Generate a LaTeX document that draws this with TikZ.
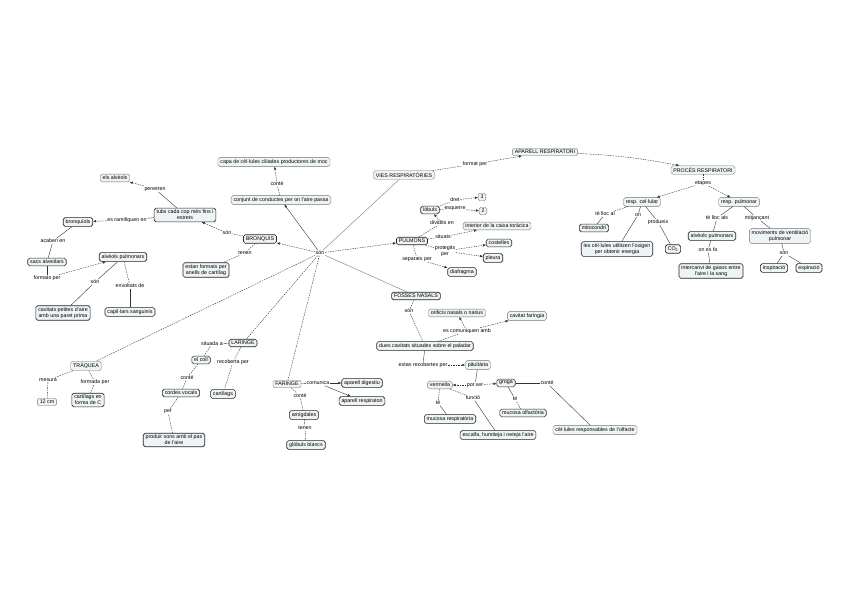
\documentclass[tikz,border=0pt]{standalone}
\usepackage{fontspec}
\setmainfont{Liberation Sans}
\usetikzlibrary{arrows.meta}
\definecolor{boxfill}{HTML}{EEF3F5}
\begin{document}
\begin{tikzpicture}[x=1pt,y=-1pt,
 every node/.style={font=\fontsize{5.3}{5.9}\selectfont},
 box/.style={draw=black!55, line width=0.35pt, fill=boxfill, rounded corners=1.8pt, inner xsep=2.4pt, inner ysep=1.9pt, align=center},
 boxb/.style={box, draw=black!85, line width=0.65pt},
 lab/.style={inner sep=0.6pt, align=center},
 con/.style={draw=black!80, line width=0.4pt, dash pattern=on 1.5pt off 1pt},
 ar/.style={con, -{Latex[length=3pt,width=2.6pt]}},
 sol/.style={draw=black!80, line width=0.4pt},
 sar/.style={sol, -{Latex[length=3pt,width=2.6pt]}},
 gl/.style={draw=black!45, line width=0.5pt}
]
\fill[white] (0,0) rectangle (848,599);
\useasboundingbox (0,0) rectangle (848,599);

% top
\node[box] (capa) at (274,162) {capa de cèl·lules ciliades productores de moc};
\node[box] (cdc) at (281,200) {conjunt de conductes per on l'aire passa};
\node[lab] (lconte1) at (277,184) {conté};
\node[box] (vies) at (404,175) {VIES RESPIRATÒRIES};
\node[lab] (lformat) at (475,164) {format per};
\node[box] (apar) at (545,152) {APARELL RESPIRATORI};
\node[box] (proc) at (703,170) {PROCÉS RESPIRATORI};
\node[lab] (letapes) at (703,183) {etapes};

% right cluster
\node[box] (rcel) at (642,202) {resp. cel·lular};
\node[box] (rpul) at (739,202) {resp. pulmonar};
\node[lab] (llloc1) at (605,214) {té lloc al};
\node[lab] (lutil) at (638,215) {on};
\node[lab] (lprod) at (658,222) {produeix};
\node[boxb] (mito) at (594,228) {mitocondri};
\node[boxb] (celu) at (617,249) {les cèl·lules utilitzen l'oxigen\\per obtenir energia};
\node[boxb] (co2) at (673,249) {CO\textsubscript{2}};
\node[lab] (llloc2) at (717,218) {té lloc als};
\node[lab] (lmitj) at (757,218) {mitjançant};
\node[boxb] (alvp2) at (712,236) {alvèols pulmonars};
\node[lab] (lfa) at (708,250) {on es fa};
\node[boxb] (inter) at (711,271) {intercanvi de gasos entre\\l'aire i la sang};
\node[box] (movi) at (780,236) {moviments de ventilació\\pulmonar};
\node[lab] (lson5) at (784,253) {són};
\node[boxb] (insp) at (774,268) {inspiració};
\node[boxb] (esp) at (809,268) {espiració};

% left cluster
\node[box] (elsalv) at (115,178) {els alvèols};
\node[lab] (lpen) at (155,189) {penetren};
\node[boxb] (tubs) at (185,215) {tubs cada cop més fins i\\estrets};
\node[lab] (lram) at (127,220) {es ramifiquen en};
\node[boxb] (bronql) at (78,222) {bronquíols};
\node[lab] (lacab) at (53,241) {acaben en};
\node[boxb] (sacs) at (47,262) {sacs alveolars};
\node[lab] (lform) at (47,278) {formats per};
\node[boxb] (alvp) at (123,257) {alvèols pulmonars};
\node[lab] (lson2) at (95,282) {són};
\node[lab] (lenv) at (130,286) {envoltats de};
\node[boxb] (cavs) at (63,313) {cavitats petites d'aire\\amb una paret prima};
\node[boxb] (capil) at (130,312) {capil·lars sanguinis};

% centre
\node[boxb] (bronq) at (260,239) {BRONQUIS};
\node[lab] (lson1) at (227,233) {són};
\node[lab] (lten) at (245,253) {tenen};
\node[boxb] (anellsb) at (206,270) {estan formats per\\anells de cartílag};
\node[lab] (hub) at (320,253) {són};

% pulmons
\node[boxb] (lobs) at (430,210) {lòbuls};
\node[lab] (ldret) at (455,200) {dret};
\node[lab] (lesq) at (455,209) {esquerre};
\node[box] (n3) at (482,197) {3};
\node[box] (n2) at (483,211) {2};
\node[boxb] (pulm) at (412,241) {PULMONS};
\node[lab] (ldiv) at (442,223) {dividits en};
\node[box] (caixa) at (497,226) {interior de la caixa toràcica};
\node[lab] (lsit) at (443,237) {situats};
\node[boxb] (cost) at (499,243) {costelles};
\node[lab] (lprot) at (445,251) {protegits\\per};
\node[boxb] (pleura) at (493,258) {pleura};
\node[lab] (lsep) at (417,259) {separats per};
\node[boxb] (diaf) at (462,272) {diafragma};

% fosses nasals
\node[boxb] (foss) at (416,296) {FOSSES NASALS};
\node[lab] (lson3) at (409,311) {són};
\node[box] (orif) at (457,313) {orificis nasals o narius};
\node[box] (cavf) at (527,316) {cavitat faríngia};
\node[lab] (lcom) at (467,331) {es comuniquen amb};
\node[boxb] (dues) at (425,346) {dues cavitats situades sobre el paladar};
\node[lab] (lrec) at (423,365) {estan recobertes per};
\node[box] (pitu) at (478,365) {pituïtària};
\node[box] (verm) at (440,385) {vermella};
\node[lab] (lpot) at (475,385) {pot ser};
\node[boxb] (groga) at (506,383) {groga};
\node[lab] (lconte3) at (547,383) {conté};
\node[lab] (lte1) at (438,403) {té};
\node[lab] (lfunc) at (473,398) {funció};
\node[lab] (lte2) at (515,399) {té};
\node[boxb] (mucolf) at (523,413) {mucosa olfactòria};
\node[boxb] (mucres) at (450,419) {mucosa respiratòria};
\node[boxb] (escal) at (498,435) {escalfa, humiteja i neteja l'aire};
\node[box] (cell) at (595,430) {cèl·lules responsables de l'olfacte};

% traquea
\node[box] (traq) at (86,366) {TRÀQUEA};
\node[lab] (lmes) at (48,380) {mesura};
\node[lab] (lformp) at (95,382) {formada per};
\node[box] (cm) at (47,402) {12 cm};
\node[boxb] (cart) at (88,400) {cartílags en\\forma de C};

% laringe
\node[boxb] (lar) at (243,343) {LARINGE};
\node[lab] (lsitu) at (212,344) {situada a};
\node[boxb] (coll) at (201,360) {el coll};
\node[lab] (lreco) at (233,362) {recoberta per};
\node[lab] (lconte4) at (187,378) {conté};
\node[boxb] (cordes) at (181,393) {cordes vocals};
\node[boxb] (cartl) at (223,394) {cartílags};
\node[lab] (lper) at (168,412) {per};
\node[boxb] (sons) at (174,440) {produir sons amb el pas\\de l'aire};

% faringe
\node[box] (far) at (287,384) {FARINGE};
\node[lab] (lcomu) at (318,383) {comunica};
\node[boxb] (apdig) at (362,383) {aparell digestiu};
\node[boxb] (apres) at (362,401) {aparell respiratori};
\node[lab] (lconte5) at (300,396) {conté};
\node[boxb] (amig) at (304,415) {amígdales};
\node[lab] (lamb) at (305,428) {tenen};
\node[boxb] (glob) at (306,445) {glòbuls blancs};

% connectors
\draw[gl] (vies) -- (hub);
\draw[sar] (hub) -- (cdc);
\draw[con] (cdc) -- (lconte1); \draw[ar] (lconte1) -- (capa);
\draw[ar] (hub) -- (bronq);
\draw[con] (bronq) -- (lson1); \draw[ar] (lson1) -- (tubs);
\draw[con] (bronq) -- (lten); \draw[con] (lten) -- (anellsb);
\draw[sol] (tubs) -- (lpen); \draw[ar] (lpen) -- (elsalv);
\draw[sol] (tubs) -- (lram); \draw[ar] (lram) -- (bronql);
\draw[sol] (bronql) -- (lacab); \draw[sol] (lacab) -- (sacs);
\draw[sol] (sacs) -- (lform); \draw[ar] (lform) -- (alvp);
\draw[sol] (alvp) -- (lson2); \draw[sol] (lson2) -- (cavs);
\draw[con] (alvp) -- (lenv); \draw[sol] (lenv) -- (capil);
\draw[ar] (hub) -- (pulm);
\draw[con] (pulm) -- (ldiv); \draw[ar] (ldiv) -- (lobs);
\draw[con] (lobs) -- (ldret); \draw[ar] (ldret) -- (n3);
\draw[con] (lobs) -- (lesq); \draw[ar] (lesq) -- (n2);
\draw[con] (pulm) -- (lsit); \draw[ar] (lsit) -- (caixa);
\draw[con] (pulm) -- (lprot); \draw[ar] (lprot) -- (cost); \draw[ar] (lprot) -- (pleura);
\draw[con] (pulm) -- (lsep); \draw[ar] (lsep) -- (diaf);
\draw[gl] (hub) -- (foss);
\draw[con] (foss) -- (lson3); \draw[con] (lson3) -- (dues);
\draw[con] (dues) -- (lcom); \draw[ar] (lcom) -- (orif); \draw[ar] (lcom) -- (cavf);
\draw[sol] (dues) -- (lrec); \draw[ar] (lrec) -- (pitu);
\draw[sol] (pitu) -- (lpot); \draw[ar] (lpot) -- (verm); \draw[ar] (lpot) -- (groga);
\draw[con] (verm) -- (lte1); \draw[sol] (lte1) -- (mucres);
\draw[con] (verm) -- (lfunc); \draw[sol] (lfunc) -- (escal);
\draw[sol] (groga) -- (lte2); \draw[con] (lte2) -- (mucolf);
\draw[sol] (groga) -- (lconte3); \draw[sol] (lconte3) -- (cell);
\draw[con] (hub) -- (traq);
\draw[con] (traq) -- (lmes); \draw[con] (lmes) -- (cm);
\draw[con] (traq) -- (lformp); \draw[con] (lformp) -- (cart);
\draw[con] (hub) -- (lar);
\draw[sol] (lar) -- (lsitu); \draw[con] (lsitu) -- (coll);
\draw[con] (lar) -- (lreco); \draw[con] (lreco) -- (cartl);
\draw[con] (coll) -- (lconte4); \draw[con] (lconte4) -- (cordes);
\draw[con] (cordes) -- (lper); \draw[con] (lper) -- (sons);
\draw[con] (hub) -- (far);
\draw[sol] (far) -- (lcomu); \draw[sar] (lcomu) -- (apdig); \draw[sar] (lcomu) -- (apres);
\draw[con] (far) -- (lconte5); \draw[con] (lconte5) -- (amig);
\draw[con] (amig) -- (lamb); \draw[con] (lamb) -- (glob);
\draw[con] (vies) -- (lformat); \draw[ar] (lformat) -- (apar);
\draw[ar] (apar) to[bend left=4] (proc);
\draw[con] (proc) -- (letapes); \draw[ar] (letapes) -- (rcel); \draw[ar] (letapes) -- (rpul);
\draw[con] (rcel) -- (llloc1); \draw[sol] (llloc1) -- (mito);
\draw[sol] (rcel) -- (lutil); \draw[sol] (lutil) -- (celu);
\draw[sol] (rcel) -- (lprod); \draw[sol] (lprod) -- (co2);
\draw[sol] (rpul) -- (llloc2); \draw[sol] (llloc2) -- (alvp2);
\draw[sol] (rpul) -- (lmitj); \draw[sol] (lmitj) -- (movi);
\draw[sol] (alvp2) -- (lfa); \draw[sol] (lfa) -- (inter);
\draw[sol] (movi) -- (lson5); \draw[sol] (lson5) -- (insp); \draw[sol] (lson5) -- (esp);
\end{tikzpicture}
\end{document}
